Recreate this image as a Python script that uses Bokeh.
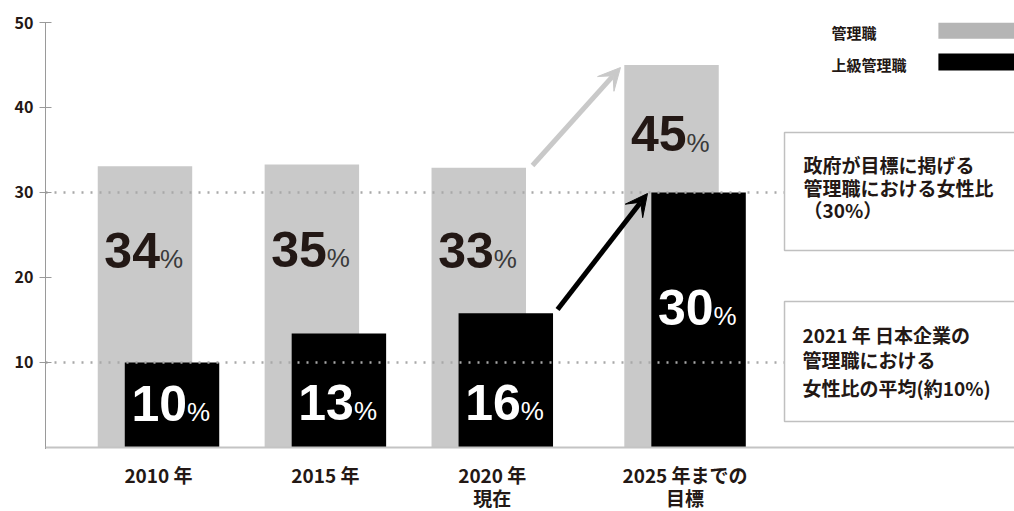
from bokeh.plotting import figure
from bokeh.layouts import column
from bokeh.models import Range1d, FixedTicker, Arrow, VeeHead, ColumnDataSource, Span
from bokeh.core.properties import value
from bokeh.embed import file_html
from bokeh.resources import INLINE

# ---------------- data ----------------
categories = ["2010 年", "2015 年", "2020 年\n現在", "2025 年までの\n目標"]
managers = [33.1, 33.3, 32.9, 45.0]          # 管理職 (bar heights)
senior = [10.0, 13.4, 15.8, 30.0]            # 上級管理職 (bar heights)
manager_labels = ["34", "35", "33", "45"]
senior_labels = ["10", "13", "16", "30"]
reference_lines = [10, 30]
y_ticks = [10, 20, 30, 40, 50]
legend_names = ["管理職", "上級管理職"]
note_gov = ["政府が目標に掲げる", "管理職における女性比", "（30%）"]
note_avg = ["2021 年 日本企業の", "管理職における", "女性比の平均(約10%)"]

# ---------------- layout ----------------
slots = [0, 1, 2, 3.155]
bar_w = 0.566
shift = 0.081
X0, X1 = -0.677, 5.129
manager_label_y = [21.1, 21.2, 21.1, 34.8]   # baselines
senior_label_y = [3.1, 3.2, 3.2, 14.4]
note_left = 3.751
cat_line_y = [37, 14]                         # in the label strip (pixels from its bottom)

DARK = "#231815"
GRAY = "#c9c9c9"
JP = "Noto Sans CJK JP"
NUM = "Liberation Sans"

xr = Range1d(X0, X1)
p = figure(width=1014, height=449, output_backend="svg", toolbar_location=None,
           x_range=xr, y_range=Range1d(-0.2353, 50), x_axis_location=None,
           min_border_left=45, min_border_right=0, min_border_top=22, min_border_bottom=0)
p.outline_line_color = None
p.xgrid.grid_line_color = None
p.ygrid.grid_line_color = None
p.background_fill_color = "white"
p.border_fill_color = "white"

gx = [s - shift for s in slots]
bx = [s + shift for s in slots]
src = ColumnDataSource(dict(gx=gx, bx=bx, m=managers, s=senior,
                            ml=manager_labels, sl=senior_labels,
                            my=manager_label_y, sy=senior_label_y))

p.vbar(x="gx", top="m", bottom=0, width=bar_w, source=src, fill_color=GRAY, line_color=None)
p.vbar(x="bx", top="s", bottom=0, width=bar_w, source=src, fill_color="black", line_color=None)

# baseline (x axis line)
p.add_layout(Span(location=0, dimension="width", line_color="#c4c4c4", line_width=2))

# dotted reference lines
for r in reference_lines:
    p.line([X0, note_left], [r, r], line_color="#a8a8a8", line_width=2.5, line_dash="2 7")

# value labels (bold number + light %)
p.text(x="gx", y="my", text="ml", source=src, x_offset=15, y_offset=-18, text_align="right",
       text_baseline="middle", text_font=value(NUM), text_font_style="bold",
       text_font_size="50px", text_color=DARK)
p.text(x="gx", y="my", text=value("%"), source=src, x_offset=15, y_offset=-9, text_align="left",
       text_baseline="middle", text_font=value(NUM), text_font_size="26px",
       text_color="#3a3a3a")
p.text(x="bx", y="sy", text="sl", source=src, x_offset=15, y_offset=-18, text_align="right",
       text_baseline="middle", text_font=value(NUM), text_font_style="bold",
       text_font_size="50px", text_color="white")
p.text(x="bx", y="sy", text=value("%"), source=src, x_offset=15, y_offset=-9, text_align="left",
       text_baseline="middle", text_font=value(NUM), text_font_size="26px",
       text_color="white")

# arrows
p.add_layout(Arrow(end=VeeHead(size=22, fill_color=GRAY, line_color=GRAY),
                   x_start=2.241, y_start=33.18, x_end=2.768, y_end=44.7,
                   line_color=GRAY, line_width=5))
p.add_layout(Arrow(end=VeeHead(size=22, fill_color="black", line_color="black"),
                   x_start=2.391, y_start=16.24, x_end=2.930, y_end=29.88,
                   line_color="black", line_width=5))

# note boxes
p.quad(left=[note_left, note_left], right=[5.4, 5.4], top=[37.06, 17.18], bottom=[23.18, 3.06],
       fill_color="white", line_color="#c0c0c0", line_width=1.5)
p.text(x=[3.865] * 3, y=[33.29, 30.59, 28.0], text=note_gov, text_align="left",
       text_baseline="middle", text_font=value(JP), text_font_style="bold",
       text_font_size="19px", text_color=DARK)
p.text(x=[3.859] * 3, y=[13.29, 10.35, 7.06], text=note_avg, text_align="left",
       text_baseline="middle", text_font=value(JP), text_font_style="bold",
       text_font_size="19px", text_color=DARK)

# legend
p.text(x=[4.032, 4.032], y=[48.82, 45.06], text=legend_names, text_align="left",
       text_baseline="middle", text_font=value(JP), text_font_style="bold",
       text_font_size="15px", text_color=DARK)
p.quad(left=[4.673, 4.673], right=[5.4, 5.4], top=[50, 46.35], bottom=[48.1, 44.35],
       fill_color=["#b5b5b5", "black"], line_color=None)

# y axis
ya = p.yaxis[0]
ya.ticker = FixedTicker(ticks=y_ticks)
ya.axis_line_color = "#9a9a9a"
ya.major_tick_line_color = "#9a9a9a"
ya.major_tick_in = 6
ya.major_tick_out = 6
ya.minor_tick_line_color = None
ya.major_label_standoff = 6
ya.major_label_text_font = JP
ya.major_label_text_font_style = "bold"
ya.major_label_text_font_size = "16px"
ya.major_label_text_color = DARK

# category label strip under the chart, sharing the x range
q = figure(width=1014, height=62, output_backend="svg", toolbar_location=None,
           x_range=xr, y_range=Range1d(0, 62), x_axis_location=None, y_axis_location=None,
           min_border_left=45, min_border_right=0, min_border_top=0, min_border_bottom=0)
q.outline_line_color = None
q.xgrid.grid_line_color = None
q.ygrid.grid_line_color = None
cx, cy, ct = [], [], []
for s, c in zip(slots, categories):
    for j, line in enumerate(c.split("\n")):
        cx.append(s)
        cy.append(cat_line_y[j])
        ct.append(line)
q.text(x=cx, y=cy, text=ct, text_align="center", text_baseline="middle",
       text_font=value(JP), text_font_style="bold", text_font_size="19px", text_color=DARK)

layout = column(p, q, spacing=0)
open("out.html", "w").write(file_html(layout, INLINE))
